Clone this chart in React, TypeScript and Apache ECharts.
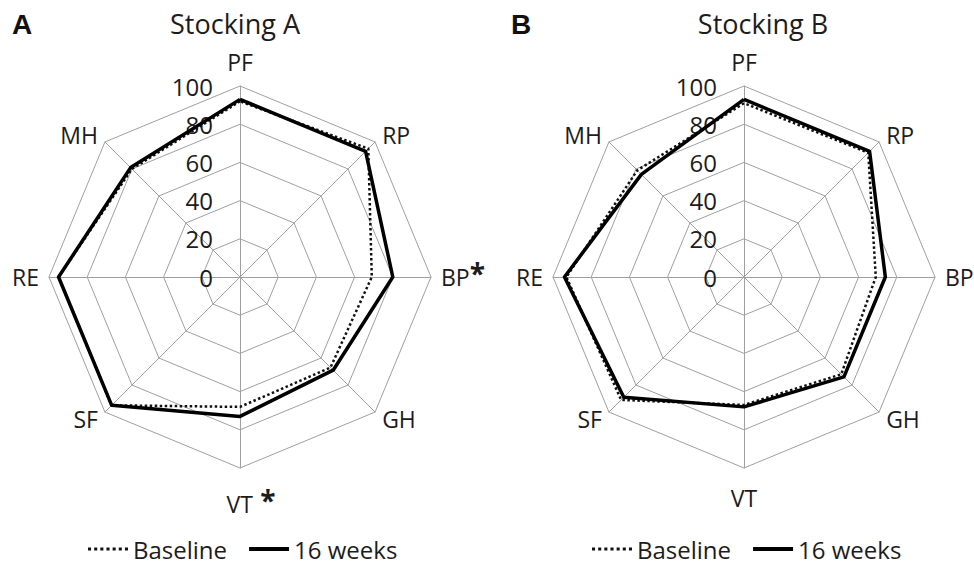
import React, { useEffect, useRef } from "react";
import * as echarts from "echarts";

// Indicators in ECharts radar order (counter-clockwise from top)
const CATS_A = ["PF", "MH", "RE", "SF", "{p|}VT{s| *}", "GH", "BP{s|*}", "RP"];
const CATS_B = ["PF", "MH", "RE", "SF", "VT", "GH", "BP", "RP"];
const TICKS_MAX = 100;
const TICK_STEP = 20;

// Stocking A (order: PF, MH, RE, SF, VT, GH, BP, RP)
const BASE_A = [92, 80, 95, 95, 68, 67, 69, 95];
const WEEK16_A = [93, 81, 95, 95, 73, 69, 80, 93];
// Stocking B
const BASE_B = [91, 79, 93, 91, 67, 72, 69, 92];
const WEEK16_B = [93, 76, 94, 89, 68, 74, 74, 93];

const SERIES_NAMES = ["Baseline", "16 weeks"];
const TITLES = ["Stocking A", "Stocking B"];
const PANEL_LETTERS = ["A", "B"];

const FONT = "'Open Sans', Lato, sans-serif";
const TXT = "#1c1c1c";
const GRID = "#a0a0a0";

const DOT_ICON =
  "path://M0,0h3v3h-3z M6,0h3v3h-3z M12,0h3v3h-3z M18,0h3v3h-3z M24,0h3v3h-3z M30,0h3v3h-3z M36,0h3v3h-3z";
const SOLID_ICON = "path://M0,0h40v4h-40z";

export default function App() {
  const ref = useRef<HTMLDivElement>(null);
  useEffect(() => {
    if (!ref.current) return;
    const chart = echarts.init(ref.current, undefined, { renderer: "svg" });

    const mkIndicators = (cats: string[]) =>
      cats.map((c, i) => ({
        name: c,
        min: 0,
        max: TICKS_MAX,
        nameGap: i === 0 ? 13 : i === 4 ? 18 : 10,
        axisLabel:
          i === 0
            ? {
                show: true,
                color: TXT,
                fontSize: 24,
                fontFamily: FONT,
                margin: 27,
              }
            : { show: false },
      }));

    const mkRadar = (cats: string[], cx: number) => ({
      center: [cx, 277],
      radius: 191,
      startAngle: 90,
      splitNumber: TICKS_MAX / TICK_STEP,
      shape: "polygon",
      indicator: mkIndicators(cats),
      axisName: {
        color: TXT,
        fontSize: 23,
        fontFamily: FONT,
        rich: {
          s: { fontSize: 28, fontWeight: "bold", color: TXT, fontFamily: FONT, padding: [0, 0, 8, 0] },
          p: { width: 22 },
        },
      },
      nameGap: 10,
      axisLine: { lineStyle: { color: GRID, width: 1 } },
      splitLine: { lineStyle: { color: GRID, width: 1 } },
      splitArea: { show: false },
      axisTick: { show: false },
      axisLabel: { show: false },
    });

    const mkSeries = (radarIndex: number, base: number[], wk: number[]) => ({
      type: "radar",
      radarIndex,
      symbol: "none",
      data: [
        {
          name: SERIES_NAMES[0],
          value: base,
          lineStyle: { color: "#111", width: 2.5, type: "dotted" },
          itemStyle: { color: "#111" },
        },
        {
          name: SERIES_NAMES[1],
          value: wk,
          lineStyle: { color: "#000", width: 3.5, type: "solid" },
          itemStyle: { color: "#000" },
        },
      ],
    });

    const mkLegend = (left: number) => ({
      left,
      top: 532,
      orient: "horizontal",
      itemWidth: 40,
      itemHeight: 4,
      itemGap: 22,
      textStyle: { color: TXT, fontSize: 24, fontFamily: FONT },
      data: [
        { name: SERIES_NAMES[0], icon: DOT_ICON },
        { name: SERIES_NAMES[1], icon: SOLID_ICON },
      ],
      selectedMode: false,
    });

    const titleText = (text: string, x: number) => ({
      type: "text",
      x,
      y: 23,
      style: {
        text,
        align: "center",
        verticalAlign: "middle",
        fill: TXT,
        font: `27px ${FONT}`,
      },
    });
    const letterText = (text: string, x: number) => ({
      type: "text",
      x,
      y: 24,
      style: {
        text,
        align: "left",
        verticalAlign: "middle",
        fill: "#111",
        font: `bold 28px 'Liberation Sans', Arial, sans-serif`,
      },
    });

    chart.setOption({
      animation: false,
      backgroundColor: "#fff",
      radar: [mkRadar(CATS_A, 240), mkRadar(CATS_B, 744)],
      series: [mkSeries(0, BASE_A, WEEK16_A), mkSeries(1, BASE_B, WEEK16_B)],
      legend: [mkLegend(83), mkLegend(587)],
      graphic: [
        titleText(TITLES[0], 235),
        titleText(TITLES[1], 763),
        letterText(PANEL_LETTERS[0], 12),
        letterText(PANEL_LETTERS[1], 511),
      ],
    });
    return () => chart.dispose();
  }, []);
  return <div ref={ref} style={{ width: 974, height: 566, position: "absolute", left: 0, top: 0 }} />;
}
